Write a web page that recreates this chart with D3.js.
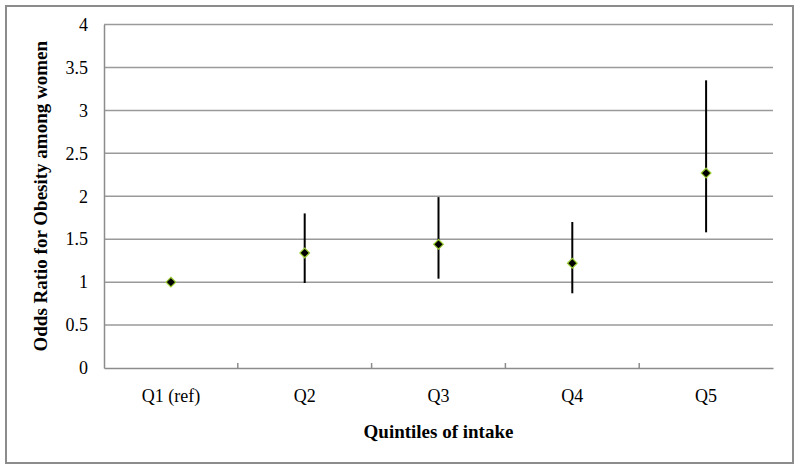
<!DOCTYPE html>
<html>
<head>
<meta charset="utf-8">
<script src="https://cdn.jsdelivr.net/npm/d3@7"></script>
<style>
  body { margin: 0; background: #fff; }
  svg { display: block; font-family: "Liberation Serif", "Times New Roman", serif; }
</style>
</head>
<body>
<div id="chart"></div>
<script>
// odds ratios with 95% CI
const categories = ["Q1 (ref)", "Q2", "Q3", "Q4", "Q5"];
const oddsRatio = [1.0, 1.34, 1.44, 1.22, 2.27];
const lowerCI = [1.0, 0.99, 1.04, 0.87, 1.58];
const upperCI = [1.0, 1.80, 1.99, 1.70, 3.35];
const yTicks = [0, 0.5, 1, 1.5, 2, 2.5, 3, 3.5, 4];

const W = 800, H = 470;
const margin = { top: 24.5, right: 27, bottom: 102, left: 104 };
const width = W - margin.left - margin.right,
      height = H - margin.top - margin.bottom;

const svg = d3.select("#chart").append("svg")
  .attr("width", W).attr("height", H);

// outer frame
svg.append("rect")
  .attr("x", 6).attr("y", 6)
  .attr("width", 787).attr("height", 457)
  .attr("fill", "none").attr("stroke", "#8c8c8c").attr("stroke-width", 2);

const g = svg.append("g")
  .attr("transform", "translate(" + margin.left + "," + margin.top + ")");

const x = d3.scaleBand().domain(categories).range([0, width]);
const y = d3.scaleLinear().domain([0, 4]).range([height, 0]);

// gridlines
g.selectAll(".grid")
  .data(yTicks.filter(d => d > 0))
  .enter().append("line")
  .attr("x1", 0).attr("x2", width)
  .attr("y1", d => y(d)).attr("y2", d => y(d))
  .attr("stroke", "#9a9a9a").attr("stroke-width", 1.5);

// y axis
const yAxis = g.append("g")
  .call(d3.axisLeft(y).tickValues(yTicks).tickSize(0).tickPadding(16).tickFormat(d3.format("")));
yAxis.select(".domain").attr("stroke", "#8c8c8c").attr("stroke-width", 1.5);
yAxis.selectAll("text").attr("font-size", 18).attr("fill", "#000")
  .attr("font-family", "Liberation Serif");

// x axis
const xAxis = g.append("g")
  .attr("transform", "translate(0," + height + ")")
  .call(d3.axisBottom(x).tickSize(0).tickPadding(21));
xAxis.select(".domain").attr("stroke", "#8c8c8c").attr("stroke-width", 1.5);
xAxis.selectAll("text").attr("font-size", 18).attr("fill", "#000")
  .attr("font-family", "Liberation Serif");

// category boundary ticks
g.selectAll(".btick")
  .data(categories.slice(1))
  .enter().append("line")
  .attr("x1", d => x(d)).attr("x2", d => x(d))
  .attr("y1", height - 5).attr("y2", height)
  .attr("stroke", "#8c8c8c").attr("stroke-width", 1.5);

// error bars
g.selectAll(".err")
  .data(categories)
  .enter().append("line")
  .attr("x1", d => x(d) + x.bandwidth() / 2)
  .attr("x2", d => x(d) + x.bandwidth() / 2)
  .attr("y1", (d, i) => y(lowerCI[i]))
  .attr("y2", (d, i) => y(upperCI[i]))
  .attr("stroke", "#000").attr("stroke-width", 2);

// diamond markers
const diamond = d3.symbol().type(d3.symbolDiamond2).size(60);
g.selectAll(".pt")
  .data(categories)
  .enter().append("path")
  .attr("d", diamond)
  .attr("transform", (d, i) => "translate(" + (x(d) + x.bandwidth() / 2) + "," + y(oddsRatio[i]) + ")")
  .attr("fill", "#000").attr("stroke", "#9acd32").attr("stroke-width", 1.2);

// axis titles
svg.append("text")
  .attr("x", margin.left + width / 2).attr("y", 438)
  .attr("text-anchor", "middle")
  .attr("font-size", 19).attr("font-weight", "bold")
  .text("Quintiles of intake");

svg.append("text")
  .attr("transform", "translate(47," + (margin.top + height / 2) + ") rotate(-90)")
  .attr("text-anchor", "middle")
  .attr("font-size", 19).attr("font-weight", "bold")
  .text("Odds Ratio for Obesity among women");
</script>
</body>
</html>
